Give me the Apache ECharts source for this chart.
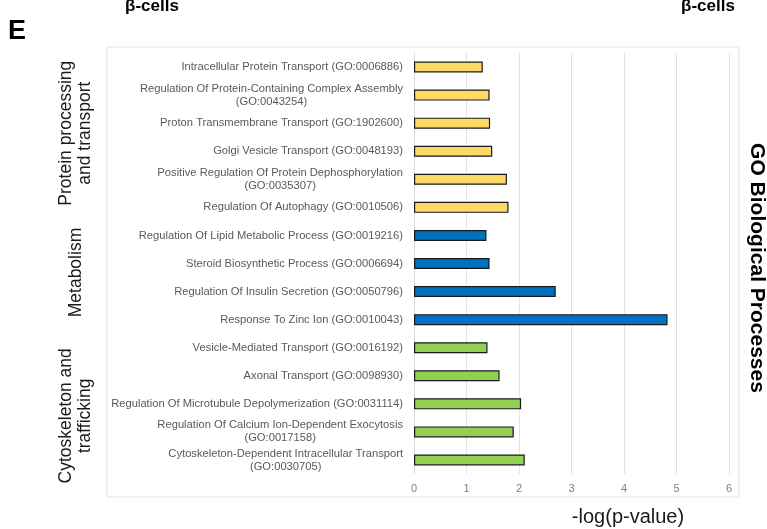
<!DOCTYPE html>
<html>
<head>
<meta charset="utf-8">
<script src="https://cdn.jsdelivr.net/npm/echarts@6/dist/echarts.min.js"></script>
<style>
  html, body { margin: 0; padding: 0; background: #ffffff; }
  #chart { width: 767px; height: 529px; }
</style>
</head>
<body>
<div id="chart"></div>
<script>
// GO biological process terms, top to bottom
const categories = [
  'Intracellular Protein Transport (GO:0006886)',
  'Regulation Of Protein-Containing Complex Assembly\n(GO:0043254)',
  'Proton Transmembrane Transport (GO:1902600)',
  'Golgi Vesicle Transport (GO:0048193)',
  'Positive Regulation Of Protein Dephosphorylation\n(GO:0035307)',
  'Regulation Of Autophagy (GO:0010506)',
  'Regulation Of Lipid Metabolic Process (GO:0019216)',
  'Steroid Biosynthetic Process (GO:0006694)',
  'Regulation Of Insulin Secretion (GO:0050796)',
  'Response To Zinc Ion (GO:0010043)',
  'Vesicle-Mediated Transport (GO:0016192)',
  'Axonal Transport (GO:0098930)',
  'Regulation Of Microtubule Depolymerization (GO:0031114)',
  'Regulation Of Calcium Ion-Dependent Exocytosis\n(GO:0017158)',
  'Cytoskeleton-Dependent Intracellular Transport\n(GO:0030705)'
];

// -log(p-value) per term
const values = [1.31, 1.44, 1.45, 1.49, 1.77, 1.80, 1.38, 1.44, 2.70, 4.83, 1.40, 1.63, 2.04, 1.90, 2.11];

// functional group of each term
const groupOf = [0, 0, 0, 0, 0, 0, 1, 1, 1, 1, 2, 2, 2, 2, 2];
const groupNames = ['Protein processing\nand transport', 'Metabolism', 'Cytoskeleton and\ntrafficking'];
const groupColors = ['#FFD966', '#0070C0', '#92D050'];
// vertical nudge of each group caption relative to its block centre
const groupShift = [-4, -5, 12];

// x axis ticks
const xTicks = [0, 1, 2, 3, 4, 5, 6];

const FONT = "'Liberation Sans', Arial, sans-serif";

const chart = echarts.init(document.getElementById('chart'), null, { renderer: 'canvas' });

const option = {
  backgroundColor: '#ffffff',
  animation: false,
  grid: { left: 414, right: 38, top: 53, bottom: 55, containLabel: false },
  xAxis: {
    type: 'value',
    min: xTicks[0],
    max: xTicks[xTicks.length - 1],
    interval: xTicks[1] - xTicks[0],
    axisLine: { show: false },
    axisTick: { show: false },
    axisLabel: { color: '#7f7f7f', fontSize: 11, fontFamily: FONT, margin: 9 },
    splitLine: { show: true, lineStyle: { color: '#e3e3e3', width: 1 } }
  },
  yAxis: {
    type: 'category',
    inverse: true,
    data: categories,
    axisLine: { show: true, lineStyle: { color: '#d9d9d9', width: 1 } },
    axisTick: { show: false },
    axisLabel: {
      color: '#595959',
      fontSize: 11.2,
      fontFamily: FONT,
      margin: 11,
      lineHeight: 13,
      interval: 0,
      formatter: function (v) {
        if (v.indexOf('\n') < 0) return v;
        return v.split('\n').map(function (s) { return '{c|' + s + '}'; }).join('\n');
      },
      rich: {
        c: { align: 'center', color: '#595959', fontSize: 11.2, fontFamily: FONT, lineHeight: 13 }
      }
    }
  },
  series: [{
    type: 'bar',
    barWidth: 11,
    data: values.map(function (v, i) {
      return {
        value: v,
        itemStyle: { color: groupColors[groupOf[i]], borderColor: '#1a1a1a', borderWidth: 1.2 }
      };
    })
  }],
  graphic: []
};

chart.setOption(option);

// Group captions placed next to their block of terms
const groupGraphics = groupNames.map(function (name, g) {
  const idx = [];
  groupOf.forEach(function (gg, i) { if (gg === g) idx.push(i); });
  const y0 = chart.convertToPixel({ yAxisIndex: 0 }, categories[idx[0]]);
  const y1 = chart.convertToPixel({ yAxisIndex: 0 }, categories[idx[idx.length - 1]]);
  return {
    type: 'text',
    x: 76,
    y: (y0 + y1) / 2 + groupShift[g],
    rotation: Math.PI / 2,
    style: {
      text: name,
      fill: '#1a1a1a',
      font: '17.5px ' + FONT,
      align: 'center',
      verticalAlign: 'middle',
      lineHeight: 19
    }
  };
});

chart.setOption({
  graphic: [
    // outer frame of the plot area
    { type: 'rect', shape: { x: 107, y: 47, width: 632, height: 450 },
      style: { fill: 'none', stroke: '#e3e3e3', lineWidth: 1 } },
    { type: 'text', x: 8, y: 18,
      style: { text: 'E', fill: '#000', font: 'bold 27px ' + FONT } },
    { type: 'text', x: 152, y: 15,
      style: { text: 'β-cells', fill: '#000', font: 'bold 17px ' + FONT, align: 'center', verticalAlign: 'bottom' } },
    { type: 'text', x: 708, y: 15,
      style: { text: 'β-cells', fill: '#000', font: 'bold 17px ' + FONT, align: 'center', verticalAlign: 'bottom' } },
    { type: 'text', x: 628, y: 517,
      style: { text: '-log(p-value)', fill: '#1a1a1a', font: '20px ' + FONT, align: 'center', verticalAlign: 'middle' } },
    { type: 'text', x: 757, y: 268, rotation: -Math.PI / 2,
      style: { text: 'GO Biological Processes', fill: '#000', font: 'bold 21px ' + FONT, align: 'center', verticalAlign: 'middle' } }
  ].concat(groupGraphics)
});
</script>
</body>
</html>
